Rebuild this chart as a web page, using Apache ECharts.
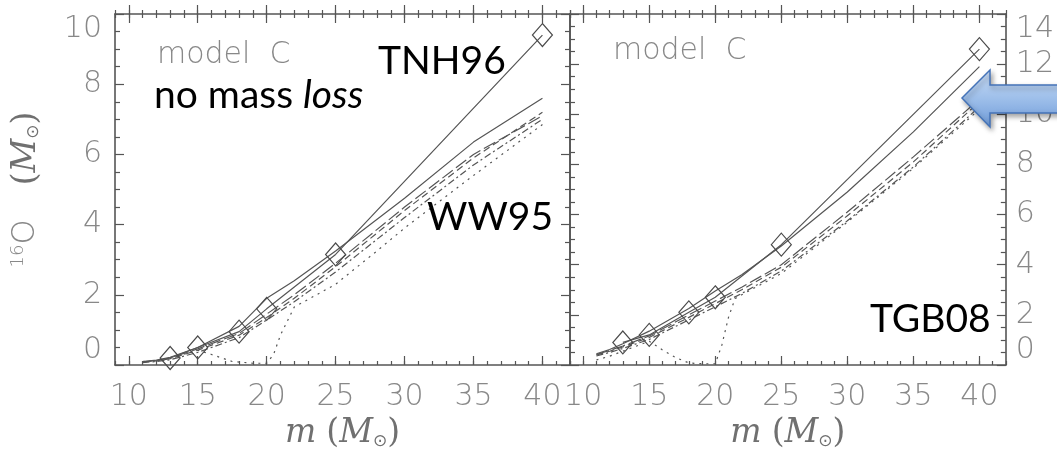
<!DOCTYPE html>
<html>
<head>
<meta charset="utf-8">
<script src="https://cdn.jsdelivr.net/npm/echarts@6/dist/echarts.min.js"></script>
<style>
  html, body { margin: 0; padding: 0; background: #ffffff; }
  #chart { width: 1057px; height: 462px; }
</style>
</head>
<body>
<div id="chart"></div>
<script>
// ---- data: 16O yield versus initial stellar mass (M_sun) ----
const massGrid = [11, 12, 13, 15, 18, 20, 22, 25, 30, 35, 40];
const massTNH = [13, 15, 18, 20, 25, 40];

// left panel (model C, no mass loss)
const leftTNH      = [0.2, 0.5, 0.95, 1.6, 3.15, 9.4];
const leftWW95     = [0.1, 0.14, 0.22, 0.5, 1.1, 1.9, 2.4, 3.25, 4.75, 6.35, 7.6];
const leftDashed   = [0.08, 0.12, 0.18, 0.42, 0.85, 1.35, 1.9, 2.8, 4.4, 5.9, 7.2];
const leftDashDot  = [0.07, 0.1, 0.15, 0.36, 0.78, 1.28, 1.8, 2.65, 4.2, 5.7, 7.0];
const leftLongDash = [0.09, 0.13, 0.2, 0.46, 0.9, 1.45, 2.0, 2.9, 4.5, 6.0, 7.1];
const leftDotMass  = [11, 12, 13, 15, 16, 17.5, 19, 20, 20.5, 21, 22, 25, 28, 30, 35, 40];
const leftDotted   = [0.1, 0.12, 0.2, 0.42, 0.3, 0.1, 0.05, 0.05, 0.3, 0.85, 1.65, 2.3, 3.25, 3.9, 5.4, 6.85];

// right panel (model C, TGB08)
const rightTNH      = [0.9, 1.2, 2.1, 2.7, 4.8, 12.6];
const rightSolid    = [0.45, 0.62, 0.85, 1.35, 2.25, 2.95, 3.6, 4.75, 6.9, 9.3, 11.9];
const rightDashed   = [0.4, 0.55, 0.72, 1.1, 1.9, 2.45, 3.0, 3.9, 5.95, 8.1, 10.5];
const rightDashDot  = [0.36, 0.5, 0.66, 1.02, 1.8, 2.32, 2.85, 3.75, 5.75, 7.9, 10.3];
const rightLongDash = [0.42, 0.58, 0.76, 1.16, 2.0, 2.55, 3.1, 4.0, 6.1, 8.3, 10.6];
const rightDotMass  = [11, 12, 13, 15, 16, 17, 18, 19, 20, 20.5, 21, 21.5, 22, 25, 30, 35, 40];
const rightDotted   = [0.2, 0.35, 0.55, 0.95, 0.6, 0.3, 0.08, 0.05, 0.05, 0.8, 1.9, 2.65, 2.8, 3.65, 5.7, 7.85, 10.2];

// tick labels
const xMajorTicks = [10, 15, 20, 25, 30, 35, 40];
const massRange = [9, 42];
const leftRange = [0, 10];
const rightRange = [0, 14];

// ---- styling ----
const INK = '#555555';
const AXIS_TEXT = '#888888';
const TICK_FONT = { fontFamily: 'DejaVu Sans', fontWeight: 200, fontSize: 30, color: AXIS_TEXT };
const mathRich = {
  i: { fontFamily: 'DejaVu Serif', fontStyle: 'italic', fontSize: 33, color: '#707070' },
  p: { fontFamily: 'DejaVu Serif', fontWeight: 200, fontSize: 33, color: '#707070' },
  sub: { fontFamily: 'DejaVu Sans', fontSize: 17, color: '#707070', padding: [16, 0, 0, 0] },
  sup: { fontFamily: 'DejaVu Sans', fontWeight: 200, fontSize: 18, color: '#888888', padding: [0, 0, 16, 0] },
  o: { fontFamily: 'DejaVu Sans', fontWeight: 200, fontSize: 32, color: '#888888' },
  gap: { fontSize: 33, width: 34 }
};

const zip = (xs, ys) => xs.map((x, i) => [x, ys[i]]);

// x axes for one panel: bottom (labelled), bottom minor, top inside/outside
function massAxes(gridIndex) {
  const base = { type: 'value', gridIndex, min: massRange[0], max: massRange[1], splitLine: { show: false } };
  const line = { show: true, lineStyle: { color: INK, width: 1.6 } };
  const noLine = { show: false };
  const tick = (len, inside, custom) => Object.assign(
    { show: true, inside, length: len, lineStyle: { color: INK, width: 1.2 } },
    custom ? { customValues: xMajorTicks } : {}
  );
  const noLabel = { show: false };
  return [
    Object.assign({}, base, {
      position: 'bottom', axisLine: line, axisTick: tick(9, true, true),
      axisLabel: Object.assign({ customValues: xMajorTicks, margin: 17 }, TICK_FONT),
      name: '{i|m}   {p|(}{i|M}{sub|\u2299}{p|)}',
      nameLocation: 'middle', nameGap: 50,
      nameTextStyle: { rich: mathRich }
    }),
    Object.assign({}, base, { position: 'bottom', interval: 1, axisLine: noLine, axisTick: tick(4, true, false), axisLabel: noLabel }),
    Object.assign({}, base, { position: 'top', axisLine: line, axisTick: tick(9, true, true), axisLabel: noLabel }),
    Object.assign({}, base, { position: 'top', interval: 1, axisLine: noLine, axisTick: tick(4, true, false), axisLabel: noLabel }),
    Object.assign({}, base, { position: 'top', axisLine: noLine, axisTick: tick(9, false, true), axisLabel: noLabel }),
    Object.assign({}, base, { position: 'top', interval: 1, axisLine: noLine, axisTick: tick(4, false, false), axisLabel: noLabel })
  ];
}

function yieldAxis(gridIndex, range, position, labelled, extra) {
  return Object.assign({
    type: 'value', gridIndex, position, min: range[0], max: range[1], interval: 2,
    splitLine: { show: false },
    axisLine: { show: true, lineStyle: { color: INK, width: 1.6 } },
    axisTick: { show: true, inside: true, length: 9, lineStyle: { color: INK, width: 1.2 } },
    minorTick: { show: true, splitNumber: 4, length: 5, lineStyle: { color: INK, width: 1.2 } },
    axisLabel: labelled
      ? Object.assign({ margin: position === 'left' ? 13 : 10, verticalAlignMinLabel: 'bottom', verticalAlignMaxLabel: 'top' }, TICK_FONT)
      : { show: false }
  }, extra || {});
}

function curve(xs, ys, panel, dash, withDiamonds) {
  return {
    type: 'line',
    xAxisIndex: panel * 6,
    yAxisIndex: panel === 0 ? 0 : 3,
    data: zip(xs, ys),
    symbol: withDiamonds ? 'diamond' : 'none',
    symbolSize: [20, 23],
    showSymbol: !!withDiamonds,
    itemStyle: { color: 'rgba(0,0,0,0)', borderColor: '#4a4a4a', borderWidth: 1.2 },
    lineStyle: { color: INK, width: 1.2, type: dash || 'solid' },
    silent: true,
    animation: false,
    z: 3
  };
}

const DASH = [7, 4];
const DASH_DOT = [7, 3, 2, 3];
const LONG_DASH = [13, 4];
const DOT = [2, 5];

const chart = echarts.init(document.getElementById('chart'), null, { renderer: 'canvas' });

chart.setOption({
  backgroundColor: '#ffffff',
  animation: false,
  grid: [
    { left: 115, top: 14, width: 455, height: 351 },
    { left: 570, top: 14, width: 454, height: 351 }
  ],
  xAxis: massAxes(0).concat(massAxes(1)),
  yAxis: [
    yieldAxis(0, leftRange, 'left', true, {
      name: '{sup|16}{o|O}{gap| }{p|(}{i|M}{sub|\u2299}{p|)}',
      nameLocation: 'middle', nameGap: 72,
      nameTextStyle: { rich: mathRich }
    }),
    yieldAxis(0, leftRange, 'right', false),
    yieldAxis(1, rightRange, 'left', false),
    yieldAxis(1, rightRange, 'right', true)
  ],
  series: [
    curve(massGrid, leftWW95, 0, 'solid', false),
    curve(massGrid, leftDashed, 0, DASH, false),
    curve(massGrid, leftDashDot, 0, DASH_DOT, false),
    curve(massGrid, leftLongDash, 0, LONG_DASH, false),
    curve(leftDotMass, leftDotted, 0, DOT, false),
    curve(massTNH, leftTNH, 0, 'solid', true),

    curve(massGrid, rightSolid, 1, 'solid', false),
    curve(massGrid, rightDashed, 1, DASH, false),
    curve(massGrid, rightDashDot, 1, DASH_DOT, false),
    curve(massGrid, rightLongDash, 1, LONG_DASH, false),
    curve(rightDotMass, rightDotted, 1, DOT, false),
    curve(massTNH, rightTNH, 1, 'solid', true)
  ],
  graphic: [
    { type: 'text', left: 157, top: 40, z: 10,
      style: { text: 'model  C', font: '200 30px "DejaVu Sans"', fill: AXIS_TEXT } },
    { type: 'text', left: 613, top: 36, z: 10,
      style: { text: 'model  C', font: '200 30px "DejaVu Sans"', fill: AXIS_TEXT } },
    { type: 'text', left: 378, top: 42, z: 10,
      style: { text: 'TNH96', font: '39px Lato', fill: '#000000' } },
    { type: 'text', left: 154, top: 76, z: 10,
      style: {
        text: '{n|no mass }{it|loss}',
        rich: {
          n: { fontFamily: 'Lato', fontSize: 39, fill: '#000000' },
          it: { fontFamily: 'Lato', fontStyle: 'italic', fontSize: 39, fill: '#000000' }
        }
      } },
    { type: 'text', left: 427, top: 198, z: 10,
      style: { text: 'WW95', font: '39px Lato', fill: '#000000' } },
    { type: 'text', left: 870, top: 300, z: 10,
      style: { text: 'TGB08', font: '39px Lato', fill: '#000000' } },
    { type: 'polygon', z: 20,
      shape: { points: [[962, 98], [990, 70], [990, 85], [1064, 85], [1064, 113], [990, 113], [990, 127]] },
      style: {
        fill: new echarts.graphic.LinearGradient(0, 0, 0, 1, [
          { offset: 0, color: '#c9dcf5' },
          { offset: 0.5, color: '#9ebfea' },
          { offset: 1, color: '#6e9ad8' }
        ]),
        stroke: '#4473b8', lineWidth: 1.5,
        shadowBlur: 5, shadowColor: 'rgba(0,0,0,0.35)', shadowOffsetX: 2, shadowOffsetY: 3
      } }
  ]
});
</script>
</body>
</html>
